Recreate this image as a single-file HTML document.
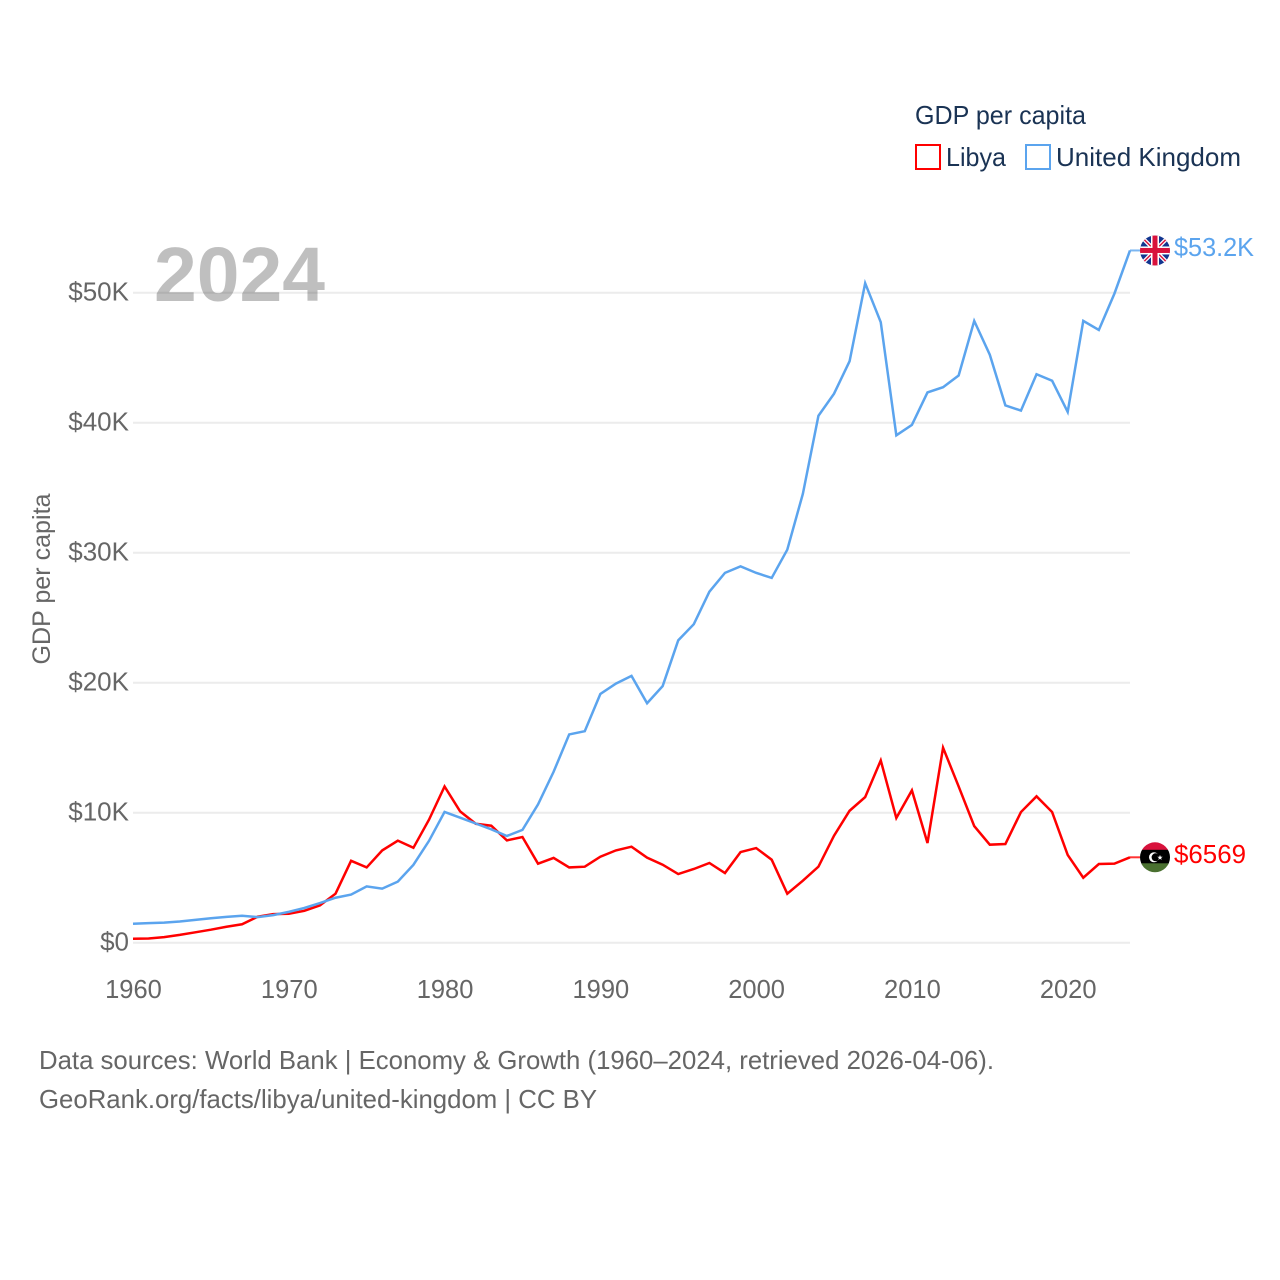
<!DOCTYPE html>
<html lang="en">
<head>
<meta charset="utf-8">
<title>GDP per capita: Libya and United Kingdom</title>
<style>
html,body{margin:0;padding:0;background:#fff;width:1280px;height:1280px;overflow:hidden}
svg{display:block}
text{font-family:"Liberation Sans",sans-serif}
</style>
</head>
<body>
<svg id="chart" width="1280" height="1280" viewBox="0 0 1280 1280" xmlns="http://www.w3.org/2000/svg">
  <defs>
    <clipPath id="flag-clip"><circle cx="0" cy="0" r="15"/></clipPath>
  </defs>
  <g id="grid"></g>
  <text x="154" y="301" font-size="77" font-weight="700" fill="#000" fill-opacity="0.25" textLength="171" lengthAdjust="spacingAndGlyphs">2024</text>
  <g id="y-ticks"></g>
  <g id="x-ticks"></g>
  <text transform="translate(50 579) rotate(-90)" text-anchor="middle" font-size="25" fill="#666" textLength="171" lengthAdjust="spacingAndGlyphs">GDP per capita</text>
  <g id="series"></g>

  <g id="flag-uk">
    <g clip-path="url(#flag-clip)">
      <rect x="-16" y="-16" width="32" height="32" fill="#12358f"/>
      <path d="M-16-16L16 16M16-16L-16 16" stroke="#fff" stroke-width="4"/>
      <path d="M-16-16L16 16M16-16L-16 16" stroke="#d8123c" stroke-width="1.4"/>
      <rect x="-16" y="-4" width="32" height="8" fill="#fff"/>
      <rect x="-4" y="-16" width="8" height="32" fill="#fff"/>
      <rect x="-16" y="-2.5" width="32" height="5" fill="#d8123c"/>
      <rect x="-2.5" y="-16" width="5" height="32" fill="#d8123c"/>
    </g>
  </g>
  <g id="flag-ly">
    <g clip-path="url(#flag-clip)">
      <rect x="-16" y="-16" width="32" height="9" fill="#d8123c"/>
      <rect x="-16" y="-7.5" width="32" height="15" fill="#000"/>
      <rect x="-16" y="6" width="32" height="10" fill="#4a7030"/>
      <circle cx="-1" cy="0" r="5" fill="#fff"/>
      <circle cx="0.6" cy="0" r="4" fill="#000"/>
      <path d="M5-2.4L5.7-0.5 7.7-0.5 6.1 0.7 6.7 2.6 5 1.5 3.3 2.6 3.9 0.7 2.3-0.5 4.3-0.5Z" fill="#fff"/>
    </g>
  </g>
  <text id="label-uk" x="1174" font-size="26" fill="#5ba4ee" textLength="80" lengthAdjust="spacingAndGlyphs"></text>
  <text id="label-ly" x="1174" font-size="26" fill="#ff0000" textLength="72" lengthAdjust="spacingAndGlyphs"></text>

  <g>
    <text x="915" y="124" font-size="26" fill="#1a3354" textLength="171" lengthAdjust="spacingAndGlyphs">GDP per capita</text>
    <g>
      <rect x="916" y="145" width="24" height="24" fill="none" stroke="#ff0000" stroke-width="2"/>
      <text x="946" y="166" font-size="26" fill="#1a3354" textLength="60" lengthAdjust="spacingAndGlyphs">Libya</text>
    </g>
    <g>
      <rect x="1026" y="145" width="24" height="24" fill="none" stroke="#5ba4ee" stroke-width="2"/>
      <text x="1056" y="166" font-size="26" fill="#1a3354" textLength="185" lengthAdjust="spacingAndGlyphs">United Kingdom</text>
    </g>
  </g>

  <text x="39" y="1069" font-size="25.6" fill="#666" textLength="955" lengthAdjust="spacingAndGlyphs">Data sources: World Bank | Economy &amp; Growth (1960–2024, retrieved 2026-04-06).</text>
  <text x="39" y="1108" font-size="25.6" fill="#666" textLength="558" lengthAdjust="spacingAndGlyphs">GeoRank.org/facts/libya/united-kingdom | CC BY</text>
</svg>
<script>
var startYear = 1960;
var xTickLabels = [1960, 1970, 1980, 1990, 2000, 2010, 2020];
var yTickValues = [0, 10000, 20000, 30000, 40000, 50000];
var yTickLabels = ["$0", "$10K", "$20K", "$30K", "$40K", "$50K"];
var libyaValues = [300, 320, 430, 600, 800, 1000, 1230, 1420, 2000, 2200, 2230, 2450, 2870, 3770, 6300, 5790, 7100, 7850, 7300, 9460, 12020, 10100, 9150, 9000, 7870, 8130, 6080, 6520, 5790, 5846, 6615, 7100, 7385, 6540, 6000, 5280, 5670, 6130, 5360, 6970, 7280, 6385, 3770, 4770, 5850, 8230, 10150, 11200, 14020, 9590, 11720, 7670, 15000, 12020, 8970, 7540, 7590, 10050, 11260, 10050, 6750, 5000, 6050, 6080, 6569];
var ukValues = [1460, 1510, 1545, 1630, 1760, 1880, 1990, 2070, 1970, 2120, 2370, 2670, 3050, 3460, 3700, 4330, 4160, 4700, 5990, 7830, 10060, 9620, 9170, 8720, 8210, 8680, 10640, 13150, 16020, 16270, 19130, 19930, 20520, 18420, 19740, 23260, 24500, 27000, 28450, 28950, 28450, 28060, 30230, 34530, 40530, 42230, 44730, 50730, 47730, 39030, 39830, 42330, 42730, 43630, 47830, 45230, 41330, 40930, 43730, 43230, 40830, 47830, 47130, 49930, 53249];

var NS = "http://www.w3.org/2000/svg";
function xScale(year) { return 133 + (year - startYear) * (997 / 64); }
function yScale(v) { return 942.7 - v * 0.013; }
function mk(tag, attrs, parent) {
  var el = document.createElementNS(NS, tag);
  for (var k in attrs) el.setAttribute(k, attrs[k]);
  parent.appendChild(el);
  return el;
}
var gridG = document.getElementById("grid");
var yG = document.getElementById("y-ticks");
var xG = document.getElementById("x-ticks");
var seriesG = document.getElementById("series");

yTickValues.forEach(function (v, i) {
  var line = mk("line", { x1: 133, x2: 1130, y1: yScale(v), y2: yScale(v), stroke: "#ececec", "stroke-width": 2 }, gridG);
  
  
  var t = mk("text", { x: 129, y: yScale(v) + 8, "text-anchor": "end", "font-size": 26, fill: "#666" }, yG);
  
  
  t.textContent = yTickLabels[i];
});
xTickLabels.forEach(function (yr) {
  var t = mk("text", { x: xScale(yr) + 0.5, y: 998, "text-anchor": "middle", "font-size": 25.5, fill: "#666" }, xG);
  
  
  t.textContent = yr;
});
function pointsOf(values) {
  return values.map(function (v, i) { return xScale(startYear + i).toFixed(2) + "," + yScale(v).toFixed(2); }).join(" ");
}
function lastX(values) { return xScale(startYear + values.length - 1); }
function lastY(values) { return yScale(values[values.length - 1]); }
var libyaLine = mk("polyline", { points: pointsOf(libyaValues), fill: "none", stroke: "#ff0000", "stroke-width": 2.5, "stroke-linejoin": "miter" }, seriesG);


var ukLine = mk("polyline", { points: pointsOf(ukValues), fill: "none", stroke: "#5ba4ee", "stroke-width": 2.5, "stroke-linejoin": "miter" }, seriesG);


var libyaLead = mk("line", { x1: lastX(libyaValues), x2: lastX(libyaValues) + 10, y1: lastY(libyaValues), y2: lastY(libyaValues), stroke: "#ff0000", "stroke-width": 2, "stroke-opacity": 0.8 }, seriesG);


var ukLead = mk("line", { x1: lastX(ukValues), x2: lastX(ukValues) + 10, y1: lastY(ukValues), y2: lastY(ukValues), stroke: "#5ba4ee", "stroke-width": 2, "stroke-opacity": 0.8 }, seriesG);



document.getElementById("flag-uk").setAttribute("transform", "translate(" + (lastX(ukValues) + 25) + " " + lastY(ukValues) + ")");
document.getElementById("flag-ly").setAttribute("transform", "translate(" + (lastX(libyaValues) + 25) + " " + lastY(libyaValues) + ")");
var labelUk = document.getElementById("label-uk");
labelUk.setAttribute("y", lastY(ukValues) + 5.5);
labelUk.textContent = "$" + (ukValues[ukValues.length - 1] / 1000).toFixed(1) + "K";
var labelLy = document.getElementById("label-ly");
labelLy.setAttribute("y", lastY(libyaValues) + 5.5);
labelLy.textContent = "$" + libyaValues[libyaValues.length - 1];
</script>
</body>
</html>
